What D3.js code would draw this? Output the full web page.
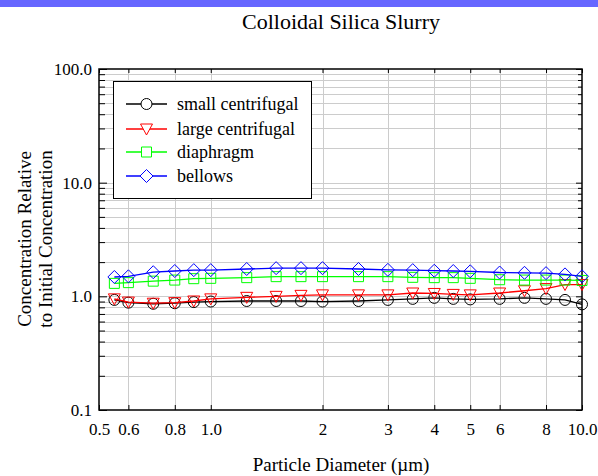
<!DOCTYPE html>
<html>
<head>
<meta charset="utf-8">
<script src="https://cdn.jsdelivr.net/npm/d3@7"></script>
<style>
  html, body { margin: 0; padding: 0; background: #fff; }
  svg { display: block; font-family: "Liberation Serif", "Times New Roman", Times, serif; }
  svg text { font-family: "Liberation Serif", "Times New Roman", Times, serif !important; fill: #000; }
</style>
</head>
<body>
<svg id="chart" width="598" height="476"></svg>
<script>
// Particle diameters (µm)
const diameters = [0.55, 0.6, 0.7, 0.8, 0.9, 1.0, 1.25, 1.5, 1.75, 2.0, 2.5, 3.0, 3.5, 4.0, 4.5, 5.0, 6.0, 7.0, 8.0, 9.0, 10.0];

// Concentration relative to initial concentration, per pump type
const smallCentrifugal = [0.93, 0.88, 0.86, 0.87, 0.89, 0.90, 0.91, 0.91, 0.91, 0.90, 0.91, 0.93, 0.95, 0.97, 0.95, 0.94, 0.95, 0.97, 0.95, 0.93, 0.85];
const largeCentrifugal = [0.95, 0.89, 0.87, 0.88, 0.91, 0.95, 0.98, 1.00, 1.02, 1.03, 1.03, 1.03, 1.07, 1.06, 1.04, 1.03, 1.07, 1.12, 1.17, 1.27, 1.27];
const diaphragm = [1.30, 1.32, 1.36, 1.39, 1.43, 1.44, 1.46, 1.49, 1.49, 1.49, 1.49, 1.49, 1.47, 1.46, 1.46, 1.44, 1.40, 1.39, 1.39, 1.39, 1.38];
const bellows = [1.48, 1.50, 1.63, 1.67, 1.70, 1.70, 1.74, 1.77, 1.77, 1.77, 1.74, 1.71, 1.70, 1.68, 1.67, 1.66, 1.62, 1.61, 1.60, 1.56, 1.50];

const seriesNames = ["small centrifugal", "large centrifugal", "diaphragm", "bellows"];

// Axis ticks
const xTickValues = [0.5, 0.6, 0.8, 1, 2, 3, 4, 5, 6, 8, 10];
const xTickLabels = ["0.5", "0.6", "0.8", "1.0", "2", "3", "4", "5", "6", "8", "10.0"];
const yTickValues = [0.1, 1, 10, 100];
const yTickLabels = ["0.1", "1.0", "10.0", "100.0"];

const series = [
  { name: seriesNames[0], values: smallCentrifugal, color: "#000000", symbol: "circle" },
  { name: seriesNames[1], values: largeCentrifugal, color: "#ff0000", symbol: "triangle" },
  { name: seriesNames[2], values: diaphragm, color: "#00ff00", symbol: "square" },
  { name: seriesNames[3], values: bellows, color: "#0000ff", symbol: "diamond" }
];

const FONT = "Liberation Serif, Times New Roman, serif";
const svg = d3.select("#chart");
const W = 598, H = 476;
const plot = { left: 99, right: 582, top: 69, bottom: 410 };

// Top banner
svg.append("rect").attr("x", 0).attr("y", 0).attr("width", W).attr("height", 7).attr("fill", "#6666ff");

const x = d3.scaleLog().domain([0.5, 10]).range([plot.left, plot.right]);
const y = d3.scaleLog().domain([0.1, 100]).range([plot.bottom, plot.top]);

// Minor y values (2..9 in each decade)
const yMinor = [];
[0.1, 1, 10].forEach(d => { for (let k = 2; k <= 9; k++) yMinor.push(+(d * k).toPrecision(3)); });

const grid = svg.append("g").attr("stroke", "#cccccc").attr("stroke-width", 1);
// Horizontal grid at every minor and major value
grid.selectAll("line.h").data(yMinor.concat([1, 10])).join("line")
  .attr("x1", plot.left).attr("x2", plot.right)
  .attr("y1", d => Math.round(y(d)) + 0.5).attr("y2", d => Math.round(y(d)) + 0.5);
// Vertical grid at the labelled x ticks
grid.selectAll("line.v").data(xTickValues.filter(d => d > 0.5 && d < 10)).join("line")
  .attr("y1", plot.top).attr("y2", plot.bottom)
  .attr("x1", d => Math.round(x(d)) + 0.5).attr("x2", d => Math.round(x(d)) + 0.5);

// Axes (ticks drawn inward)
const fmtX = d => xTickLabels[xTickValues.indexOf(d)];
const fmtY = d => yTickLabels[yTickValues.indexOf(d)];

const xAxisBottom = d3.axisBottom(x).tickValues(xTickValues).tickFormat(fmtX).tickSizeInner(-5).tickSizeOuter(0).tickPadding(13);
const gxb = svg.append("g").attr("transform", `translate(0,${plot.bottom})`).call(xAxisBottom);
const xAxisTop = d3.axisTop(x).tickValues(xTickValues).tickFormat("").tickSizeInner(-4).tickSizeOuter(0);
const gxt = svg.append("g").attr("transform", `translate(0,${plot.top})`).call(xAxisTop);

const yAxisLeft = d3.axisLeft(y).tickValues(yTickValues).tickFormat(fmtY).tickSizeInner(-8).tickSizeOuter(0).tickPadding(7);
const gyl = svg.append("g").attr("transform", `translate(${plot.left},0)`).call(yAxisLeft);
const yAxisLeftMinor = d3.axisLeft(y).tickValues(yMinor).tickFormat("").tickSizeInner(-6).tickSizeOuter(0);
const gylm = svg.append("g").attr("transform", `translate(${plot.left},0)`).call(yAxisLeftMinor);
const yAxisRight = d3.axisRight(y).tickValues(yTickValues).tickFormat("").tickSizeInner(-6).tickSizeOuter(0);
const gyr = svg.append("g").attr("transform", `translate(${plot.right},0)`).call(yAxisRight);
const yAxisRightMinor = d3.axisRight(y).tickValues(yMinor).tickFormat("").tickSizeInner(-4).tickSizeOuter(0);
const gyrm = svg.append("g").attr("transform", `translate(${plot.right},0)`).call(yAxisRightMinor);

[gxb, gxt, gyl, gylm, gyr, gyrm].forEach(g => {
  g.attr("font-family", FONT).attr("font-size", 17);
  g.select(".domain").remove();
  g.selectAll(".tick line").attr("stroke", "#000").attr("stroke-width", 1);
  g.selectAll(".tick text").attr("fill", "#000");
});

// Frame
svg.append("rect")
  .attr("x", plot.left).attr("y", plot.top)
  .attr("width", plot.right - plot.left).attr("height", plot.bottom - plot.top)
  .attr("fill", "none").attr("stroke", "#000").attr("stroke-width", 1.5);

// Marker path generator
function markerPath(sym, cx, cy) {
  const p = d3.path();
  if (sym === "circle") {
    p.moveTo(cx + 5.5, cy); p.arc(cx, cy, 5.5, 0, 2 * Math.PI);
  } else if (sym === "triangle") {
    p.moveTo(cx - 6, cy - 5); p.lineTo(cx + 6, cy - 5); p.lineTo(cx, cy + 6); p.closePath();
  } else if (sym === "square") {
    p.rect(cx - 5, cy - 5, 10, 10);
  } else {
    p.moveTo(cx, cy - 6.5); p.lineTo(cx + 6.5, cy); p.lineTo(cx, cy + 6.5); p.lineTo(cx - 6.5, cy); p.closePath();
  }
  return p.toString();
}

const line = d3.line().x(d => x(d[0])).y(d => y(d[1]));

const gData = svg.append("g");
series.forEach(s => {
  const pts = diameters.map((d, i) => [d, s.values[i]]);
  gData.append("path").attr("d", line(pts)).attr("fill", "none")
    .attr("stroke", s.color).attr("stroke-width", 1.3);
  gData.selectAll(null).data(pts).join("path")
    .attr("d", d => markerPath(s.symbol, x(d[0]), y(d[1])))
    .attr("fill", "none").attr("stroke", s.color).attr("stroke-width", 1);
});

// Legend
const lg = svg.append("g");
lg.append("rect").attr("x", 113.5).attr("y", 81.5).attr("width", 198).attr("height", 117)
  .attr("fill", "#fff").attr("stroke", "#000").attr("stroke-width", 1);
const rowY = [104, 129, 152, 176];
series.forEach((s, i) => {
  const cy = rowY[i];
  lg.append("line").attr("x1", 126).attr("x2", 167).attr("y1", cy).attr("y2", cy)
    .attr("stroke", s.color).attr("stroke-width", 1.3);
  lg.append("path").attr("d", markerPath(s.symbol, 146.5, cy))
    .attr("fill", "#fff").attr("stroke", s.color).attr("stroke-width", 1);
  lg.append("text").attr("x", 177).attr("y", cy + 5.5).attr("font-family", FONT).attr("font-size", 18).text(s.name);
});

// Titles
svg.append("text").attr("x", 341).attr("y", 29).attr("text-anchor", "middle")
  .attr("font-family", FONT).attr("font-size", 22).text("Colloidal Silica Slurry");
svg.append("text").attr("x", 341).attr("y", 471).attr("text-anchor", "middle")
  .attr("font-family", FONT).attr("font-size", 19).text("Particle Diameter (\u00b5m)");
const yTitle = svg.append("text").attr("text-anchor", "middle").attr("font-family", FONT).attr("font-size", 19)
  .attr("transform", "translate(0,239) rotate(-90)");
yTitle.append("tspan").attr("x", 0).attr("y", 31).text("Concentration Relative");
yTitle.append("tspan").attr("x", 0).attr("y", 52).text("to Initial Concentration");
</script>
</body>
</html>
